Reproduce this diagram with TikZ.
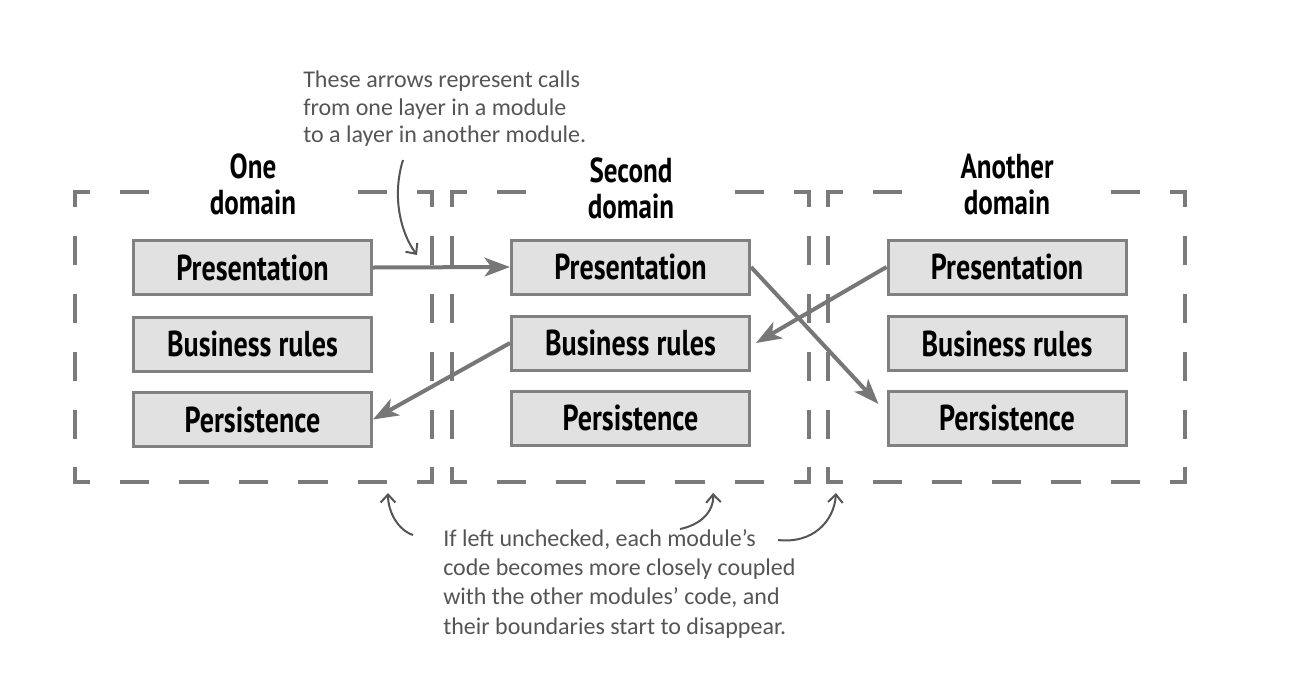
\documentclass[tikz,border=0pt]{standalone}
\usepackage{fontspec}
\usetikzlibrary{arrows.meta,calc}
\newfontfamily\boxfont{PT Sans}[FakeStretch=0.78]
\newfontfamily\handfont{Carlito}
\definecolor{framegray}{HTML}{7A7A7A}
\definecolor{boxfill}{HTML}{E1E1E1}
\definecolor{boxline}{HTML}{808080}
\definecolor{arrowgray}{HTML}{777777}
\definecolor{notegray}{HTML}{555555}
\tikzset{
  layerbox/.style={draw=boxline, fill=boxfill, line width=2.25pt, minimum width=178.5pt, minimum height=40.5pt, inner sep=0pt, font=\boxfont\bfseries\fontsize{27}{30}\selectfont},
  domainlabel/.style={fill=white, align=center, minimum width=150pt, inner sep=2pt, font=\boxfont\bfseries\fontsize{26}{27}\selectfont},
  call/.style={draw=arrowgray, line width=3pt, -{Stealth[length=19pt,width=14pt,inset=5pt]}},
  note/.style={text=notegray, align=left, inner sep=0pt},
  pointer/.style={draw=notegray, line width=1.5pt, -{Straight Barb[length=6pt,width=11pt]}},
  frameline/.style={draw=framegray, line width=3pt}
}
\newcommand\dashframe[1]{%
  \draw[frameline, dash pattern=on 22.3125pt off 22.3125pt, dash phase=11.156pt] (#1,192) -- ({#1+357},192);
  \draw[frameline, dash pattern=on 22.3125pt off 22.3125pt, dash phase=11.156pt] (#1,482) -- ({#1+357},482);
  \draw[frameline, dash pattern=on 21.75pt off 21.75pt, dash phase=10.875pt] (#1,192) -- (#1,482);
  \draw[frameline, dash pattern=on 21.75pt off 21.75pt, dash phase=10.875pt] ({#1+357},192) -- ({#1+357},482);
  \draw[frameline, line join=miter] ({#1+15},192) -- (#1,192) -- (#1,207);
  \draw[frameline, line join=miter] ({#1+15},482) -- (#1,482) -- (#1,467);
  \draw[frameline, line join=miter] ({#1+342},192) -- ({#1+357},192) -- ({#1+357},207);
  \draw[frameline, line join=miter] ({#1+342},482) -- ({#1+357},482) -- ({#1+357},467);
}
\begin{document}
\begin{tikzpicture}[x=0.75pt,y=-0.75pt]
\fill[white] (0,0) rectangle (1291,675);
\useasboundingbox (0,0) rectangle (1291,675);

\dashframe{75}
\dashframe{452}
\dashframe{828}

\node[domainlabel] (ld) at (253,184) {One\\domain};
\node[domainlabel] (md) at (631,188) {Second\\domain};
\node[domainlabel] (rd) at (1007,185) {Another\\domain};

\node[layerbox] (lp) at (252.5,267.5) {Presentation};
\node[layerbox] (lb) at (252.5,344) {Business rules};
\node[layerbox] (lpe) at (252.5,419.5) {Persistence};
\node[layerbox] (mp) at (630.5,267) {Presentation};
\node[layerbox] (mb) at (630.5,343) {Business rules};
\node[layerbox] (mpe) at (630.5,418) {Persistence};
\node[layerbox] (rp) at (1007,267) {Presentation};
\node[layerbox] (rb) at (1007,343.5) {Business rules};
\node[layerbox] (rpe) at (1007,418) {Persistence};

\draw[call] (lp.east) -- (mp.west);
\draw[call] (mb.west) -- (lpe.east);
\draw[call] (mp.east) -- ($(rpe.west)+(-8,-14)$);
\draw[call] (rp.west) -- ($(mb.east)+(5,0)$);

\node[note, anchor=north west, font=\handfont\fontsize{18}{20.3}\selectfont] (topnote) at (303,71) {These arrows represent calls\\from one layer in a module\\to a layer in another module.};
\node[note, anchor=north west, font=\handfont\fontsize{18}{22}\selectfont] (botnote) at (443,529) {If left unchecked, each module’s\\code becomes more closely coupled\\with the other modules’ code, and\\their boundaries start to disappear.};

\coordinate (t1s) at (403,160);
\coordinate (t1e) at (417,255);
\draw[pointer] (t1s) .. controls (392,195) and (400,232) .. (t1e);
\coordinate (b1s) at (413,535);
\coordinate (b1e) at (388,493);
\draw[pointer] (b1s) .. controls (398,530) and (388,512) .. (b1e);
\coordinate (b2s) at (680,529);
\coordinate (b2e) at (713,493);
\draw[pointer] (b2s) .. controls (700,525) and (714,512) .. (b2e);
\coordinate (b3s) at (778,540);
\coordinate (b3e) at (836,493);
\draw[pointer] (b3s) .. controls (812,544) and (834,522) .. (b3e);
\end{tikzpicture}
\end{document}
